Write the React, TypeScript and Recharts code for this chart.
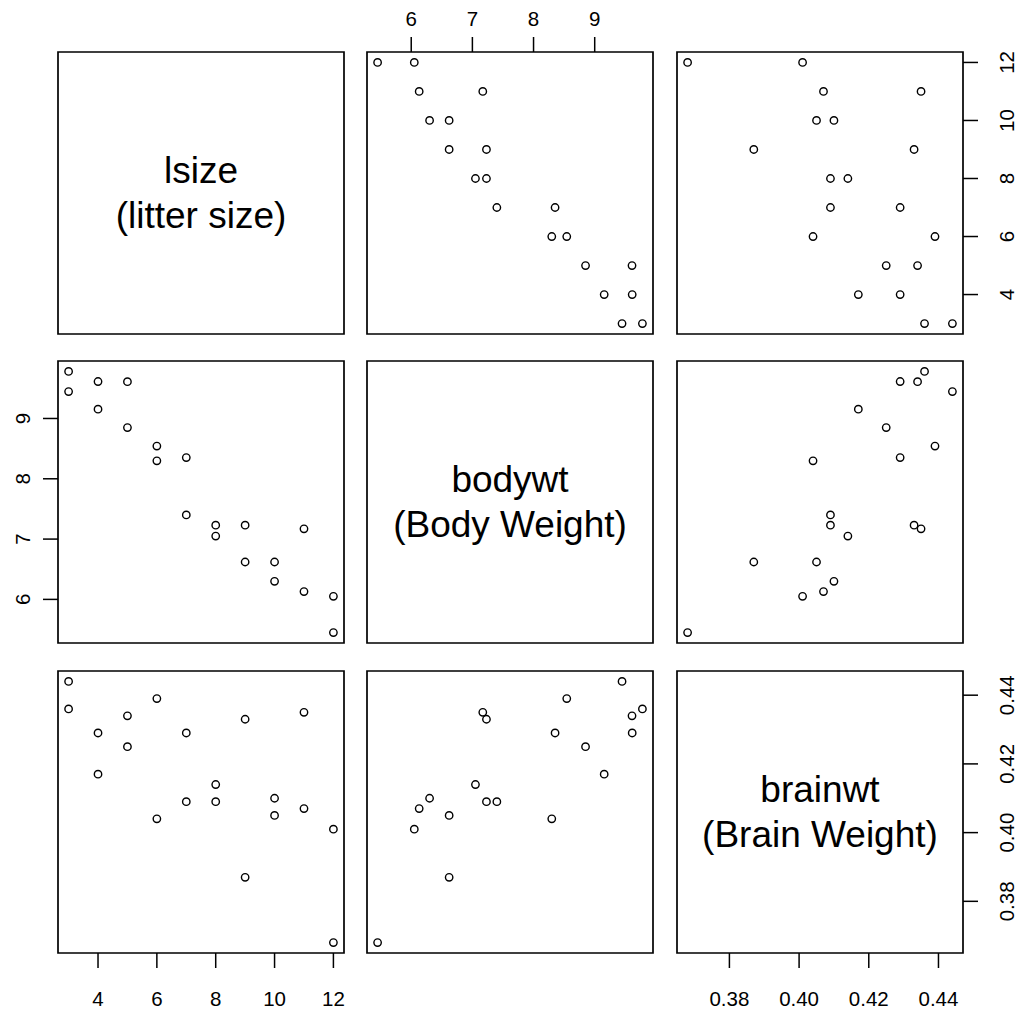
import React from 'react';
import { ScatterChart, Scatter, XAxis, YAxis, ReferenceArea } from 'recharts';

// litters data: litter size, body weight, brain weight
const lsize = [3, 3, 4, 4, 5, 5, 6, 6, 7, 7, 8, 8, 9, 9, 10, 10, 11, 11, 12, 12];
const bodywt = [
  9.447, 9.78, 9.155, 9.613, 8.85, 9.61, 8.298, 8.543, 8.352, 7.4,
  7.23, 7.05, 6.62, 7.23, 6.62, 6.3, 6.13, 7.17, 5.45, 6.05,
];
const brainwt = [
  0.444, 0.436, 0.417, 0.429, 0.425, 0.434, 0.404, 0.439, 0.429, 0.409,
  0.409, 0.414, 0.387, 0.433, 0.405, 0.41, 0.407, 0.435, 0.368, 0.401,
];

const varNames = ['lsize', 'bodywt', 'brainwt'];
const varLabels = ['(litter size)', '(Body Weight)', '(Brain Weight)'];

const lsizeTicks = [4, 6, 8, 10, 12];
const bodywtTicks = [6, 7, 8, 9];
const brainwtTicks = [0.38, 0.4, 0.42, 0.44];

const columns = [lsize, bodywt, brainwt];
const tickSets = [lsizeTicks, bodywtTicks, brainwtTicks];
const tickFormat = [
  (v: number) => String(v),
  (v: number) => String(v),
  (v: number) => v.toFixed(2),
];

// R style: data range widened by 4% on each side
const range4 = (vals: number[]): [number, number] => {
  const lo = Math.min(...vals);
  const hi = Math.max(...vals);
  const pad = (hi - lo) * 0.04;
  return [lo - pad, hi + pad];
};

const BOX_LEFT = [58, 367, 677];
const BOX_TOP = [52, 361, 671];
const BOX_W = 286;
const BOX_H = 282;
const PAD = 60;
const FONT = '"Liberation Sans", Arial, Helvetica, sans-serif';

const makeTick = (side: string, fmt: (v: number) => string) => (props: any) => {
  const { x, y, payload } = props;
  let tx = x;
  let ty = y;
  let rotate = false;
  if (side === 'bottom') ty = y + 30;
  if (side === 'top') ty = y - 19;
  if (side === 'left') {
    tx = x - 20;
    rotate = true;
  }
  if (side === 'right') {
    tx = x + 29;
    rotate = true;
  }
  return (
    <text
      x={tx}
      y={ty}
      textAnchor="middle"
      dominantBaseline="central"
      transform={rotate ? `rotate(-90 ${tx} ${ty})` : undefined}
      fontSize={20.5}
      fontFamily={FONT}
      fill="#000"
    >
      {fmt(payload.value)}
    </text>
  );
};

const OpenCircle = (props: any) => {
  const { cx, cy } = props;
  return <circle cx={cx} cy={cy} r={3.7} fill="none" stroke="#000" strokeWidth={1.4} />;
};

function Panel({ r, c }: { r: number; c: number }) {
  const showTop = r === 0 && c % 2 === 1;
  const showBottom = r === 2 && c % 2 === 0;
  const showLeft = c === 0 && r % 2 === 1;
  const showRight = c === 2 && r % 2 === 0;
  const xDom = range4(columns[c]);
  const yDom = range4(columns[r]);
  const data = r === c ? [] : columns[c].map((x, i) => ({ x, y: columns[r][i] }));
  const xSide = showTop ? 'top' : 'bottom';
  const ySide = showRight ? 'right' : 'left';

  return (
    <div style={{ position: 'absolute', left: BOX_LEFT[c] - PAD, top: BOX_TOP[r] - PAD }}>
      <ScatterChart
        width={BOX_W + 2 * PAD}
        height={BOX_H + 2 * PAD}
        margin={{
          top: showTop ? 0 : PAD,
          bottom: showBottom ? 0 : PAD,
          left: showLeft ? 0 : PAD,
          right: showRight ? 0 : PAD,
        }}
      >
        <XAxis
          type="number"
          dataKey="x"
          orientation={xSide}
          domain={xDom}
          allowDataOverflow
          ticks={tickSets[c]}
          hide={!(showTop || showBottom)}
          height={PAD}
          axisLine={false}
          tickSize={15}
          tickMargin={0}
          tickLine={{ stroke: '#000', strokeWidth: 1.5 }}
          tick={makeTick(xSide, tickFormat[c])}
          interval={0}
        />
        <YAxis
          type="number"
          dataKey="y"
          orientation={ySide}
          domain={yDom}
          allowDataOverflow
          ticks={tickSets[r]}
          hide={!(showLeft || showRight)}
          width={PAD}
          axisLine={false}
          tickSize={15}
          tickMargin={0}
          tickLine={{ stroke: '#000', strokeWidth: 1.5 }}
          tick={makeTick(ySide, tickFormat[r])}
          interval={0}
        />
        <ReferenceArea
          x1={xDom[0]}
          x2={xDom[1]}
          y1={yDom[0]}
          y2={yDom[1]}
          fill="none"
          stroke="#000"
          strokeWidth={1.7}
          ifOverflow="visible"
        />
        {r !== c && (
          <Scatter data={data} shape={<OpenCircle />} isAnimationActive={false} />
        )}
      </ScatterChart>
      {r === c && (
        <div
          style={{
            position: 'absolute',
            left: PAD,
            top: PAD,
            width: BOX_W,
            height: BOX_H,
            display: 'flex',
            flexDirection: 'column',
            alignItems: 'center',
            justifyContent: 'center',
            fontFamily: FONT,
            fontSize: 37,
            lineHeight: '45px',
            color: '#000',
            pointerEvents: 'none',
          }}
        >
          <div>{varNames[r]}</div>
          <div>{varLabels[r]}</div>
        </div>
      )}
    </div>
  );
}

export default function App() {
  const cells = [];
  for (let r = 0; r < 3; r++) {
    for (let c = 0; c < 3; c++) {
      cells.push(<Panel key={`${r}-${c}`} r={r} c={c} />);
    }
  }
  return (
    <div
      style={{
        position: 'absolute',
        left: 0,
        top: 0,
        width: 1019,
        height: 1010,
        background: '#fff',
        overflow: 'hidden',
      }}
    >
      {cells}
    </div>
  );
}
